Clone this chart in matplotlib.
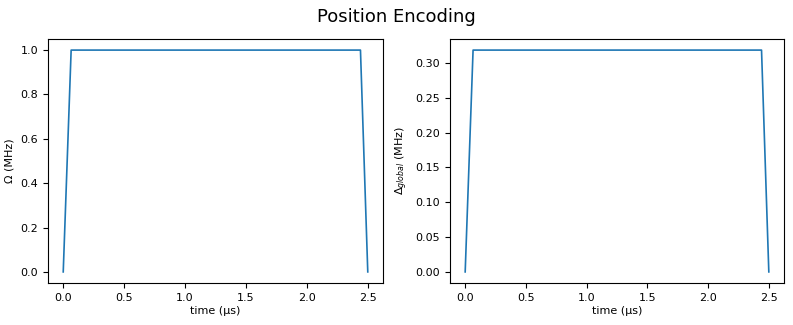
import matplotlib
matplotlib.use("Agg")
import matplotlib.pyplot as plt

time_us = [0.0, 0.065, 2.44, 2.5]
omega_mhz = [0.0, 1.0, 1.0, 0.0]
delta_mhz = [0.0, 0.3183, 0.3183, 0.0]

plt.rcParams['font.size'] = 8
fig = plt.figure(figsize=(7.93, 3.25), dpi=100)
ax1 = fig.add_axes([48/793, 1-283/325, 335/793, 244/325])
ax2 = fig.add_axes([450/793, 1-283/325, 334/793, 244/325])

ax1.plot(time_us, omega_mhz, color='#1f77b4', lw=1.2)
ax1.set_xlabel('time (μs)', labelpad=2)
ax1.set_ylabel('Ω (MHz)')

ax2.plot(time_us, delta_mhz, color='#1f77b4', lw=1.2)
ax2.set_xlabel('time (μs)', labelpad=2)
ax2.set_ylabel(r'$\Delta_{global}$ (MHz)')

fig.suptitle('Position Encoding', fontsize=13, y=0.975)
fig.savefig('out.png', dpi=100)
